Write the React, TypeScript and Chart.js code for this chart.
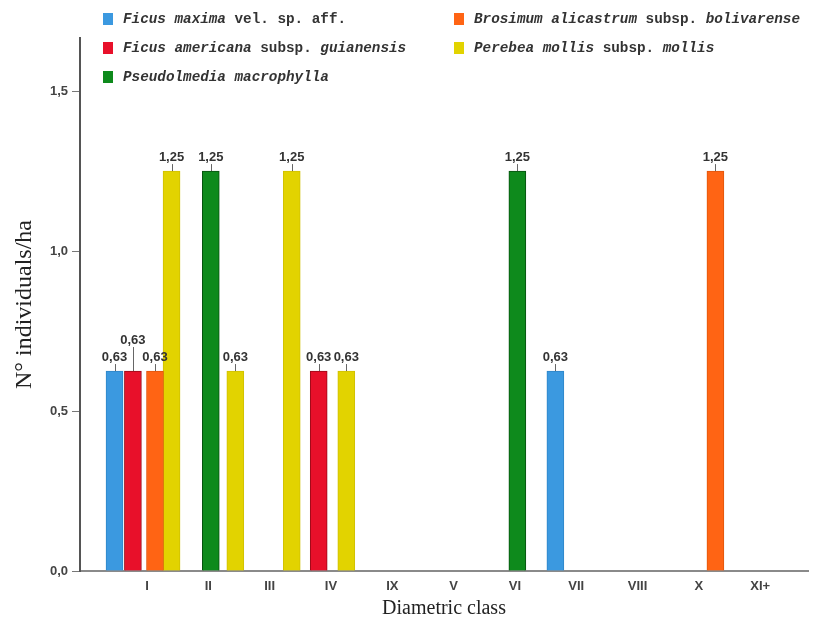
import React, { useEffect, useRef } from 'react';
import { Chart, registerables } from 'chart.js';

Chart.register(...registerables);

// ---- Data ----
const categories = ['I', 'II', 'III', 'IV', 'IX', 'V', 'VI', 'VII', 'VIII', 'X', 'XI+'];
const yTickValues = [0, 0.5, 1.0, 1.5];

// bar positions are expressed on the class axis (I = 0, II = 1, ...)
const ficusMaximaPos = [-0.53, 6.66];
const ficusMaximaVal = [0.625, 0.625];
const ficusAmericanaPos = [-0.23, 2.8];
const ficusAmericanaVal = [0.625, 0.625];
const brosimumPos = [0.13, 9.27];
const brosimumVal = [0.625, 1.25];
const perebeaPos = [0.4, 1.44, 2.36, 3.25];
const perebeaVal = [1.25, 0.625, 1.25, 0.625];
const pseudolmediaPos = [1.04, 6.04];
const pseudolmediaVal = [1.25, 1.25];

// legend name parts: [text, italic]
const ficusMaximaName: [string, boolean][] = [['Ficus maxima', true], [' vel. sp. aff.', false]];
const ficusAmericanaName: [string, boolean][] = [['Ficus americana', true], [' subsp. ', false], ['guianensis', true]];
const pseudolmediaName: [string, boolean][] = [['Pseudolmedia macrophylla', true]];
const brosimumName: [string, boolean][] = [['Brosimum alicastrum', true], [' subsp. ', false], ['bolivarense', true]];
const perebeaName: [string, boolean][] = [['Perebea mollis', true], [' subsp. ', false], ['mollis', true]];

const toPoints = (xs: number[], ys: number[]) => xs.map((x, i) => ({ x, y: ys[i] }));
const joinName = (parts: [string, boolean][]) => parts.map((p) => p[0]).join('');

const series = [
  { name: ficusMaximaName, pos: ficusMaximaPos, val: ficusMaximaVal, color: '#3b99e0', border: '#2f86c8', col: 0, row: 0 },
  { name: ficusAmericanaName, pos: ficusAmericanaPos, val: ficusAmericanaVal, color: '#e8102a', border: '#9a0a18', col: 0, row: 1 },
  { name: pseudolmediaName, pos: pseudolmediaPos, val: pseudolmediaVal, color: '#0e8a1c', border: '#07500f', col: 0, row: 2 },
  { name: brosimumName, pos: brosimumPos, val: brosimumVal, color: '#ff6414', border: '#e0560c', col: 1, row: 0 },
  { name: perebeaName, pos: perebeaPos, val: perebeaVal, color: '#e2d300', border: '#d0c000', col: 1, row: 1 },
];

const fmt = (v: number, d: number) => v.toFixed(d).replace('.', ',');

const legendPlugin = {
  id: 'customLegend',
  afterDraw(chart: any) {
    const ctx = chart.ctx as CanvasRenderingContext2D;
    const colX = [103, 454];
    const rowY = [19, 48, 77];
    ctx.save();
    ctx.textBaseline = 'middle';
    ctx.textAlign = 'left';
    series.forEach((s) => {
      const x = colX[s.col];
      const y = rowY[s.row];
      ctx.fillStyle = s.color;
      ctx.fillRect(x, y - 6, 10, 12);
      let tx = x + 20;
      ctx.fillStyle = '#333';
      s.name.forEach(([text, italic]) => {
        ctx.font = `${italic ? 'italic ' : ''}bold 14.3px "Liberation Mono", "Courier New", monospace`;
        ctx.fillText(text, tx, y);
        tx += ctx.measureText(text).width;
      });
    });
    ctx.restore();
  },
};

const labelPlugin = {
  id: 'barLabels',
  afterDatasetsDraw(chart: any) {
    const ctx = chart.ctx as CanvasRenderingContext2D;
    const items: { x: number; y: number; text: string }[] = [];
    chart.data.datasets.forEach((ds: any, di: number) => {
      const meta = chart.getDatasetMeta(di);
      meta.data.forEach((el: any, i: number) => {
        const { x, y } = el.getProps(['x', 'y'], true);
        items.push({ x, y, text: fmt(ds.data[i].y, 2) });
      });
    });
    items.sort((a, b) => a.x - b.x);
    ctx.save();
    ctx.font = 'bold 13px "Liberation Sans", Arial, sans-serif';
    ctx.textAlign = 'center';
    ctx.textBaseline = 'middle';
    const placed: { cx: number; cy: number; w: number }[] = [];
    for (const it of items) {
      const w = ctx.measureText(it.text).width;
      let cy = it.y - 14;
      let guard = 0;
      while (
        guard++ < 6 &&
        placed.some((p) => Math.abs(p.cx - it.x) < (p.w + w) / 2 + 1 && Math.abs(p.cy - cy) < 13)
      ) {
        cy -= 17;
      }
      placed.push({ cx: it.x, cy, w });
      ctx.strokeStyle = '#666';
      ctx.lineWidth = 1;
      const lx = Math.round(it.x) + 0.5;
      ctx.beginPath();
      ctx.moveTo(lx, it.y);
      ctx.lineTo(lx, cy + 7);
      ctx.stroke();
      ctx.fillStyle = '#333';
      ctx.fillText(it.text, it.x, cy);
    }
    ctx.restore();
  },
};

export default function App() {
  const canvasRef = useRef<HTMLCanvasElement | null>(null);

  useEffect(() => {
    if (!canvasRef.current) return;
    const chart = new Chart(canvasRef.current, {
      type: 'bar',
      data: {
        datasets: series.map((s) => ({
          label: joinName(s.name),
          data: toPoints(s.pos, s.val),
          backgroundColor: s.color,
          borderColor: s.border,
          borderWidth: 1,
          barThickness: 17,
          grouped: false,
        })) as any,
      },
      options: {
        animation: false,
        responsive: true,
        maintainAspectRatio: false,
        layout: { padding: { top: 38, right: 18, left: 0, bottom: 0 } },
        plugins: {
          legend: { display: false },
          tooltip: { enabled: false },
        },
        scales: {
          x: {
            type: 'linear',
            offset: false,
            min: -1.093,
            max: 10.78,
            afterBuildTicks: (scale: any) => {
              scale.ticks = categories.map((_, i) => ({ value: i }));
            },
            afterFit: (scale: any) => {
              scale.height = 52;
            },
            ticks: {
              autoSkip: false,
              maxRotation: 0,
              padding: 0,
              color: '#444',
              font: { family: '"Liberation Sans", Arial, sans-serif', size: 13, weight: 'bold' },
              callback: (v: any) => categories[Math.round(Number(v))] ?? '',
            },
            grid: { display: false },
            border: { display: true, color: '#8a8a8a', width: 2 },
            title: {
              display: true,
              text: 'Diametric class',
              color: '#222',
              font: { family: '"Liberation Serif", "Times New Roman", serif', size: 20, weight: 'normal' },
              padding: { top: 0, bottom: 2 },
            },
          },
          y: {
            type: 'linear',
            min: 0,
            max: 1.666,
            afterBuildTicks: (scale: any) => {
              scale.ticks = yTickValues.map((v) => ({ value: v }));
            },
            afterFit: (scale: any) => {
              scale.width = 80;
            },
            ticks: {
              padding: 4,
              color: '#444',
              font: { family: '"Liberation Sans", Arial, sans-serif', size: 13, weight: 'bold' },
              callback: (v: any) => fmt(Number(v), 1),
            },
            grid: { drawOnChartArea: false, drawTicks: true, tickLength: 8, color: '#777', lineWidth: 1 },
            border: { display: true, color: '#555', width: 2 },
            title: {
              display: true,
              text: 'N° individuals/ha',
              color: '#222',
              font: { family: '"Liberation Serif", "Times New Roman", serif', size: 24, weight: 'normal' },
              padding: { top: 10, bottom: 0 },
            },
          },
        },
      } as any,
      plugins: [labelPlugin, legendPlugin],
    });
    return () => chart.destroy();
  }, []);

  return (
    <div style={{ position: 'absolute', left: 0, top: 0, width: 826, height: 623, background: '#fff' }}>
      <canvas ref={canvasRef} />
    </div>
  );
}
